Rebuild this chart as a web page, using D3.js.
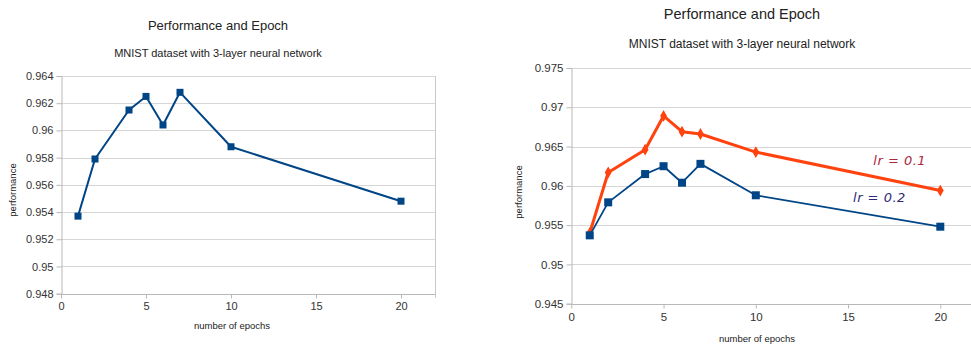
<!DOCTYPE html>
<html><head><meta charset="utf-8">
<script src="https://cdn.jsdelivr.net/npm/d3@7"></script>
<style>
html,body{margin:0;padding:0;background:#fff;}
svg{display:block;font-family:"Liberation Sans",Arial,sans-serif;}
</style></head>
<body>
<svg id="c" width="971" height="347"></svg>
<script>
const epochs = [1, 2, 4, 5, 6, 7, 10, 20];
const perfLr02 = [0.9537, 0.9579, 0.9615, 0.9625, 0.9604, 0.9628, 0.9588, 0.9548];
const perfLr01 = [0.9540, 0.9617, 0.9646, 0.9689, 0.9669, 0.9666, 0.9643, 0.9594];
const xTicks = [0, 5, 10, 15, 20];
const yTicksLeft = [0.948, 0.95, 0.952, 0.954, 0.956, 0.958, 0.96, 0.962, 0.964];
const yTicksRight = [0.945, 0.95, 0.955, 0.96, 0.965, 0.97, 0.975];
const titleText = "Performance and Epoch";
const subtitleText = "MNIST dataset with 3-layer neural network";
const xLabel = "number of epochs";
const yLabel = "performance";
const annotations = [{text: "lr = 0.1", x: 17.8, y: 0.9627, color: "#a8283e"}, {text: "lr = 0.2", x: 16.7, y: 0.9579, color: "#2e2a78"}];

const BLUE = "#004586", RED = "#ff420e";
const svg = d3.select("#c");

function chart(cfg) {
  const g = svg.append("g");
  const x = d3.scaleLinear().domain([0, 22]).range([cfg.left, cfg.left + 22 * cfg.unit]);
  const y = d3.scaleLinear().domain(cfg.yDomain).range([cfg.bottom, cfg.top]);
  const fmt = d => String(+d.toFixed(3));

  g.append("g").selectAll("line").data(cfg.yTicks).join("line")
    .attr("x1", cfg.left).attr("x2", cfg.gridRight)
    .attr("y1", d => Math.round(y(d)) + 0.5).attr("y2", d => Math.round(y(d)) + 0.5)
    .attr("stroke", "#d6d6d6").attr("stroke-width", 1);
  if (cfg.rightBorder) {
    g.append("line").attr("x1", Math.round(x(22)) + 0.5).attr("x2", Math.round(x(22)) + 0.5)
      .attr("y1", cfg.top).attr("y2", cfg.bottom + 4).attr("stroke", "#c8c8c8");
  }

  const yAxis = d3.axisLeft(y).tickValues(cfg.yTicks).tickFormat(fmt).tickSize(5).tickPadding(3);
  const ya = g.append("g").attr("transform", `translate(${Math.round(cfg.left) + 0.5},0)`).call(yAxis);
  const xAxis = d3.axisBottom(x).tickValues(xTicks).tickSize(4).tickPadding(4);
  const xa = g.append("g").attr("transform", `translate(0,${Math.round(cfg.bottom) + 0.5})`).call(xAxis);
  [ya, xa].forEach(a => {
    a.select(".domain").attr("stroke", "#b8b8b8");
    a.selectAll(".tick line").attr("stroke", "#b8b8b8");
    a.selectAll("text").attr("fill", "#333").style("font-size", cfg.tickSize + "px");
  });
  xa.select(".domain").attr("d", `M${cfg.left},0H${cfg.gridRight}`);

  g.append("text").attr("x", cfg.titleX).attr("y", cfg.titleY).attr("text-anchor", "middle")
    .attr("fill", "#222").style("font-size", cfg.titleSize + "px").text(titleText);
  g.append("text").attr("x", cfg.titleX).attr("y", cfg.subY).attr("text-anchor", "middle")
    .attr("fill", "#222").style("font-size", cfg.subSize + "px").text(subtitleText);
  g.append("text").attr("x", cfg.xlabX).attr("y", cfg.xlabY).attr("text-anchor", "middle")
    .attr("fill", "#222").style("font-size", "9.5px").text(xLabel);
  g.append("text").attr("transform", `translate(${cfg.ylabX},${cfg.ylabY}) rotate(-90)`)
    .attr("text-anchor", "middle").attr("fill", "#222").style("font-size", "9.5px").text(yLabel);

  const line = d3.line().x(d => x(d[0])).y(d => y(d[1]));

  if (cfg.red) {
    const rd = epochs.map((e, i) => [e, perfLr01[i]]);
    g.append("path").datum(rd).attr("d", line).attr("fill", "none").attr("stroke", RED).attr("stroke-width", 3).attr("stroke-linejoin", "round");
    g.append("g").selectAll("path").data(rd).join("path")
      .attr("transform", d => `translate(${x(d[0])},${y(d[1])})`)
      .attr("d", d3.symbol(d3.symbolDiamond, 40)).attr("fill", RED);
  }
  const bd = epochs.map((e, i) => [e, perfLr02[i]]);
  g.append("path").datum(bd).attr("d", line).attr("fill", "none").attr("stroke", BLUE).attr("stroke-width", cfg.blueW).attr("stroke-linejoin", "round");
  g.append("g").selectAll("rect").data(bd).join("rect")
    .attr("x", d => x(d[0]) - cfg.sq / 2).attr("y", d => y(d[1]) - cfg.sq / 2)
    .attr("width", cfg.sq).attr("height", cfg.sq).attr("fill", BLUE);

  if (cfg.red) {
    g.append("g").selectAll("text").data(annotations).join("text")
      .attr("x", d => x(d.x)).attr("y", d => y(d.y)).attr("text-anchor", "middle")
      .attr("fill", d => d.color).style("font-size", "13px").style("font-style", "italic")
      .style("font-family", "'DejaVu Sans', sans-serif").style("letter-spacing", "0.5px")
      .text(d => d.text);
  }
}

chart({left: 61, unit: 17, top: 76, bottom: 293.7, yDomain: [0.948, 0.964], yTicks: yTicksLeft,
  gridRight: 435, rightBorder: true, tickSize: 11, titleX: 218, titleY: 30, subY: 57, titleSize: 13, subSize: 11,
  xlabX: 232, xlabY: 329, ylabX: 16, ylabY: 190, blueW: 2, sq: 7, red: false});

chart({left: 571.3, unit: 18.45, top: 68, bottom: 303.7, yDomain: [0.945, 0.975], yTicks: yTicksRight,
  gridRight: 971, rightBorder: false, tickSize: 11.5, titleX: 742, titleY: 19, subY: 48, titleSize: 14.5, subSize: 12,
  xlabX: 757, xlabY: 342, ylabX: 522, ylabY: 192, blueW: 1.8, sq: 8, red: true});
</script>
</body></html>
